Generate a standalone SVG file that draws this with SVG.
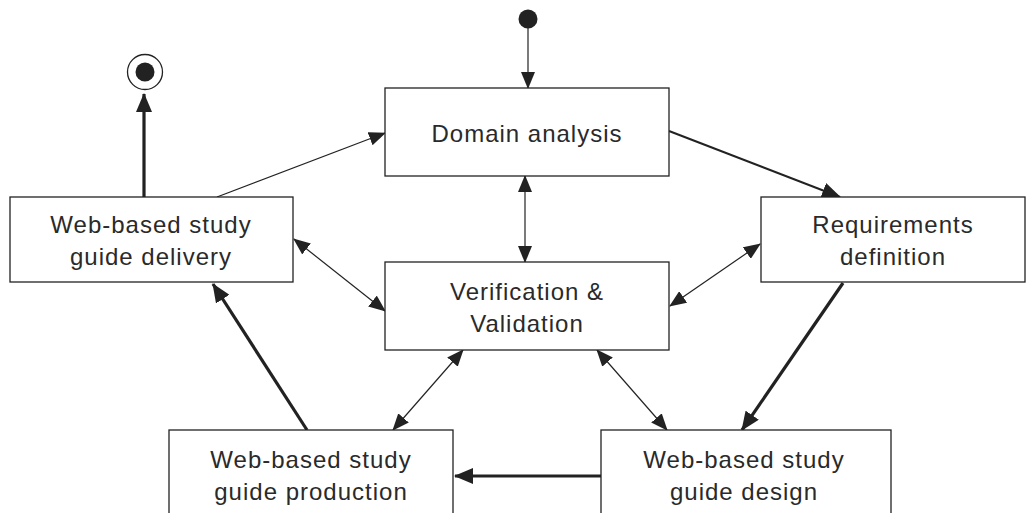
<svg xmlns="http://www.w3.org/2000/svg" width="1034" height="513" viewBox="0 0 1034 513">
  <style>
    .box{fill:#fff;stroke:#222;stroke-width:1.3}
    .lbl{font-family:"Liberation Sans",Arial,sans-serif;font-size:24px;fill:#2a2a2a;text-anchor:middle;letter-spacing:1px}
    .thin{stroke:#222;stroke-width:1.2;fill:none}
    .mid{stroke:#222;stroke-width:2;fill:none}
    .thick{stroke:#222;stroke-width:3.2;fill:none}
  </style>
  <defs>
    <marker id="ah" markerUnits="userSpaceOnUse" markerWidth="17" markerHeight="14" viewBox="0 0 17 14" refX="16" refY="7" orient="auto-start-reverse">
      <path d="M0,0 L17,7 L0,14 Z" fill="#222"/>
    </marker>
    <marker id="ahb" markerUnits="userSpaceOnUse" markerWidth="19" markerHeight="16" viewBox="0 0 19 16" refX="18" refY="8" orient="auto">
      <path d="M0,0 L19,8 L0,16 Z" fill="#222"/>
    </marker>
  </defs>

  <g id="connectors">
    <line class="thin" x1="528" y1="22" x2="528" y2="88" marker-end="url(#ah)"/>
    <line class="thick" x1="144" y1="197" x2="144" y2="94" marker-end="url(#ahb)"/>
    <line class="thin" x1="217" y1="197" x2="385" y2="133" marker-end="url(#ah)"/>
    <line class="mid" x1="669" y1="131" x2="840" y2="197" marker-end="url(#ahb)"/>
    <line class="thin" x1="525" y1="176" x2="525" y2="262" marker-start="url(#ah)" marker-end="url(#ah)"/>
    <line class="thin" x1="294" y1="239" x2="385" y2="311" marker-start="url(#ah)" marker-end="url(#ah)"/>
    <line class="thin" x1="760" y1="244" x2="670" y2="306" marker-start="url(#ah)" marker-end="url(#ah)"/>
    <line class="thin" x1="463" y1="350" x2="393" y2="430" marker-start="url(#ah)" marker-end="url(#ah)"/>
    <line class="thin" x1="597" y1="350" x2="667" y2="430" marker-start="url(#ah)" marker-end="url(#ah)"/>
    <line class="thick" x1="843" y1="283" x2="742" y2="430" marker-end="url(#ahb)"/>
    <line class="thick" x1="601" y1="476" x2="455" y2="476" marker-end="url(#ahb)"/>
    <line class="thick" x1="307" y1="430" x2="213" y2="284" marker-end="url(#ahb)"/>
  </g>

  <g id="start">
    <circle cx="528" cy="19" r="9.5" fill="#222"/>
  </g>

  <g id="end">
    <circle cx="145" cy="72" r="17.5" fill="#fff" stroke="#222" stroke-width="1.3"/>
    <circle cx="145" cy="72" r="9.5" fill="#222"/>
  </g>

  <g id="domain-analysis">
    <rect class="box" x="385" y="88" width="284" height="88"/>
    <text class="lbl" x="527" y="142">Domain analysis</text>
  </g>

  <g id="requirements-definition">
    <rect class="box" x="761" y="197" width="264" height="85"/>
    <text class="lbl" x="893" y="233">Requirements</text>
    <text class="lbl" x="893" y="265">definition</text>
  </g>

  <g id="verification-validation">
    <rect class="box" x="385" y="262" width="284" height="88"/>
    <text class="lbl" x="527" y="300">Verification &amp;</text>
    <text class="lbl" x="527" y="332">Validation</text>
  </g>

  <g id="study-guide-delivery">
    <rect class="box" x="10" y="197" width="283" height="85"/>
    <text class="lbl" x="151" y="233">Web-based study</text>
    <text class="lbl" x="151" y="265">guide delivery</text>
  </g>

  <g id="study-guide-production">
    <rect class="box" x="169" y="430" width="284" height="100"/>
    <text class="lbl" x="311" y="468">Web-based study</text>
    <text class="lbl" x="311" y="500">guide production</text>
  </g>

  <g id="study-guide-design">
    <rect class="box" x="601" y="430" width="290" height="100"/>
    <text class="lbl" x="744" y="468">Web-based study</text>
    <text class="lbl" x="744" y="500">guide design</text>
  </g>
</svg>
